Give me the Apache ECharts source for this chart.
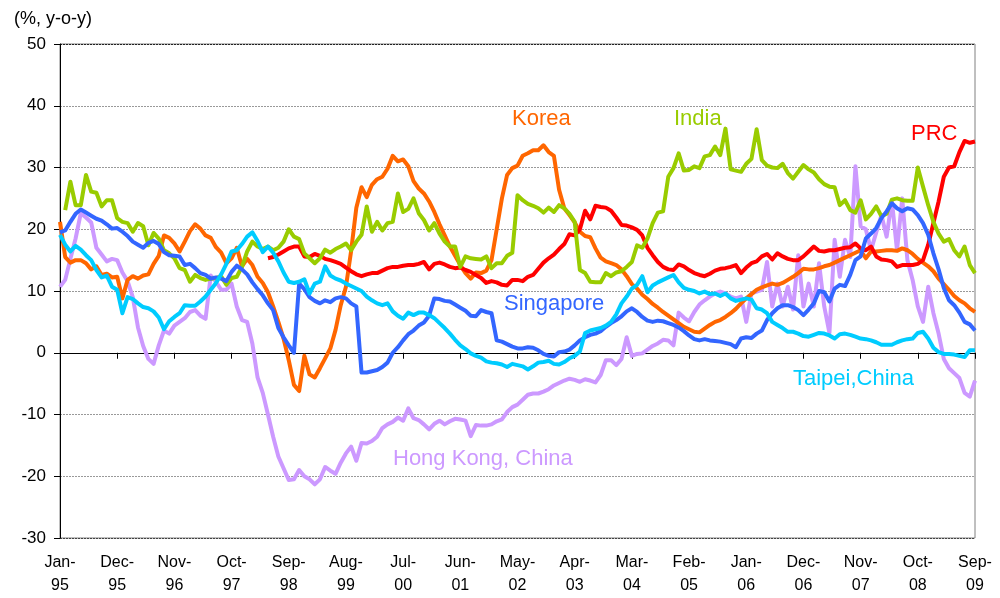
<!DOCTYPE html>
<html>
<head>
<meta charset="utf-8">
<script src="https://cdn.jsdelivr.net/npm/echarts@6/dist/echarts.min.js"></script>
<style>
  html, body { margin: 0; padding: 0; background: #fff; }
  #chart { width: 1000px; height: 598px; }
</style>
</head>
<body>
<div id="chart"></div>
<script>
// monthly, Jan-95 .. Sep-09 (177 points)
const MONTHS = ['Jan', 'Feb', 'Mar', 'Apr', 'May', 'Jun', 'Jul', 'Aug', 'Sep', 'Oct', 'Nov', 'Dec']
const FIRST_YEAR = 1995
const N_MONTHS = 177
const TICK_EVERY = 11
const TICK_LABELS = ['Jan-95', 'Dec-95', 'Nov-96', 'Oct-97', 'Sep-98', 'Aug-99', 'Jul-00', 'Jun-01',
  'May-02', 'Apr-03', 'Mar-04', 'Feb-05', 'Jan-06', 'Dec-06', 'Nov-07', 'Oct-08', 'Sep-09']

const categories = []
for (let i = 0; i < N_MONTHS; i++) {
  const yy = String(FIRST_YEAR + Math.floor(i / 12)).slice(2)
  categories.push(MONTHS[i % 12] + '-' + yy)
}

const korea = [
  21.2, 15.5, 14.6, 15.0, 15.0, 14.5, 13.5, 14.0, 12.6, 12.8, 12.2, 12.3,
  8.8, 11.8, 12.4, 12.0, 12.5, 12.7, 14.4, 15.7, 19.0, 18.6, 17.7, 16.4,
  18.0, 19.7, 20.8, 20.1, 19.0, 18.6, 17.1, 16.2, 14.5, 15.3, 17.0, 14.0,
  15.2, 14.2, 12.3, 11.3, 9.8, 7.5, 5.0, 2.3, -1.2, -5.2, -6.2, -0.5,
  -3.5, -4.0, -2.5, -0.9, 0.7, 3.7, 7.7, 10.7, 16.5, 23.5, 26.8, 25.2,
  27.2, 28.1, 28.5, 29.8, 31.9, 31.0, 31.3, 30.2, 27.8, 26.6, 25.8, 24.5,
  22.8, 20.8, 19.0, 17.2, 15.7, 14.2, 12.9, 12.0, 13.0, 12.9, 13.3, 15.0,
  20.0, 25.0, 28.8, 29.9, 30.3, 31.9, 32.3, 32.8, 32.8, 33.6, 32.5, 31.9,
  26.4, 23.4, 22.3, 21.1, 19.6, 18.9, 18.7, 16.9, 15.4, 14.8, 14.5, 14.2,
  13.5, 12.4, 11.1, 10.4, 9.4, 8.7, 7.9, 7.3, 6.6, 6.0, 5.4, 4.8,
  4.2, 3.8, 3.4, 3.3, 3.9, 4.5, 5.0, 5.3, 5.8, 6.4, 7.1, 8.0,
  8.8, 9.5, 10.2, 10.6, 10.9, 11.2, 11.0, 11.3, 11.8, 12.3, 12.9, 13.6,
  13.5, 13.5, 13.7, 14.0, 14.2, 14.6, 15.0, 15.4, 15.8, 16.2, 16.6, 15.3,
  16.4, 16.4, 16.5, 16.6, 16.6, 16.5, 16.9, 16.6, 16.0, 15.2, 14.6, 14.0,
  13.2, 12.0, 11.1, 10.2, 9.2, 8.5, 8.0, 7.2, 6.6
]

const india = [
  null, 23.1, 27.7, 23.9, 23.9, 28.8, 26.1, 25.9, 23.7, 24.7, 24.7, 21.8,
  21.2, 21.0, 19.6, 21.0, 20.5, 17.4, 19.4, 18.5, 16.6, 16.1, 15.3, 13.7,
  13.4, 11.5, 12.6, 12.1, 11.8, 12.0, 12.1, 12.4, 11.0, 12.1, 12.3, 13.9,
  16.4, 18.0, 17.2, 16.8, 17.2, 16.6, 17.0, 18.0, 20.0, 18.8, 18.4, 16.1,
  15.3, 14.5, 15.3, 16.7, 16.2, 16.8, 17.2, 17.7, 16.6, 18.0, 19.1, 23.7,
  19.6, 21.2, 19.8, 21.0, 21.2, 25.8, 22.8, 23.3, 25.0, 22.6, 21.5, 19.8,
  21.0, 19.3, 18.0, 17.2, 17.2, 13.9, 15.6, 15.3, 15.2, 15.1, 15.6, 13.7,
  14.5, 14.5, 15.7, 16.2, 25.5, 24.7, 24.1, 23.8, 23.4, 22.7, 23.5, 22.8,
  23.9, 23.4, 22.5, 21.2, 13.4, 12.9, 11.5, 11.4, 11.4, 12.9, 12.4, 13.0,
  13.2, 13.9, 14.7, 17.4, 17.0, 18.5, 21.0, 22.7, 22.9, 28.5, 29.9, 32.3,
  29.5, 29.6, 30.2, 29.9, 31.8, 32.0, 33.4, 32.0, 36.3, 29.7, 29.5, 29.3,
  30.6, 31.4, 36.2, 31.2, 30.3, 30.0, 29.9, 30.6, 29.1, 28.2, 29.3, 30.4,
  29.7, 29.2, 28.1, 27.3, 26.9, 26.8, 23.9, 24.7, 23.1, 22.7, 24.7, 21.6,
  22.5, 23.7, 22.1, 22.5, 24.8, 25.0, 24.7, 24.6, 24.6, 30.0, 26.9, 23.9,
  21.2, 19.3, 18.0, 18.4, 16.6, 15.6, 17.2, 14.2, 12.9
]

const prc = [
  null, null, null, null, null, null, null, null, null, null, null, null,
  null, null, null, null, null, null, null, null, null, null, null, null,
  null, null, null, null, null, null, null, null, null, null, null, null,
  null, null, null, null, 15.3, 15.5, 15.9, 16.4, 16.9, 17.2, 17.2, 15.6,
  15.5, 16.0, 15.7, 15.2, 15.0, 14.7, 14.4, 13.8, 13.2, 12.7, 12.4, 12.7,
  12.9, 12.9, 13.3, 13.7, 13.9, 13.9, 14.1, 14.2, 14.2, 14.4, 14.7, 13.5,
  14.4, 14.6, 14.3, 13.9, 13.7, 13.8, 13.4, 13.1, 12.6, 12.1, 11.3, 11.6,
  11.4, 11.0, 10.9, 11.8, 11.8, 11.6, 12.3, 12.6, 13.6, 14.6, 15.3, 15.9,
  16.8, 17.6, 19.2, 19.0, 20.0, 23.0, 21.6, 23.8, 23.6, 23.5, 23.0, 21.9,
  20.7, 20.6, 20.3, 19.9, 19.0, 17.0, 15.8, 14.7, 13.9, 13.5, 13.4, 14.3,
  14.0, 13.4, 12.9, 12.6, 12.4, 12.8, 13.3, 13.6, 13.7, 13.9, 14.2, 12.9,
  13.8, 14.5, 14.8, 15.6, 16.0, 15.1, 16.1, 15.6, 15.2, 15.0, 15.0, 15.6,
  16.4, 17.2, 16.5, 16.4, 16.6, 16.6, 16.8, 17.0, 17.1, 17.7, 16.9, 16.6,
  17.2, 15.6, 15.1, 15.0, 14.8, 13.9, 14.2, 14.2, 14.2, 14.4, 15.0, 17.5,
  21.0, 24.5, 28.5, 30.0, 30.2, 32.5, 34.3, 34.0, 34.2
]

const singapore = [
  19.5, 19.8, 21.2, 22.5, 23.2, 22.7, 22.2, 21.7, 21.4, 20.8, 20.1, 20.2,
  19.6, 18.9, 18.0, 17.5, 17.0, 17.8, 18.1, 17.6, 16.3, 15.8, 15.7, 15.6,
  14.2, 14.4, 13.7, 12.9, 12.6, 12.0, 12.2, 12.0, 11.6, 13.1, 14.1, 13.5,
  12.7, 11.4, 10.3, 9.3, 8.0, 6.9, 4.0, 2.5, 1.2, 0.0, 11.2, 10.3,
  9.0, 8.4, 8.0, 8.5, 8.2, 8.8, 9.0, 8.8, 8.0, 7.5, -3.2, -3.2,
  -3.0, -2.8, -2.3, -1.6, 0.0, 0.9, 2.0, 3.0, 3.6, 4.4, 4.9, 6.0,
  8.8, 8.7, 8.4, 8.3, 7.8, 7.3, 6.8, 6.0, 5.9, 6.9, 6.6, 6.4,
  2.0, 1.8, 1.4, 1.0, 0.7, 0.7, 0.9, 0.8, 0.4, -0.2, -0.5, -0.6,
  0.1, 0.2, 0.5, 1.2, 2.0, 2.5, 2.9, 3.1, 3.5, 4.2, 4.8, 5.3,
  5.9, 6.7, 7.2, 6.6, 5.8, 5.2, 5.0, 5.2, 5.1, 4.8, 4.5, 4.1,
  3.5, 2.8, 2.2, 2.0, 2.2, 2.0, 1.9, 1.8, 1.6, 1.4, 0.9, 2.3,
  2.5, 2.4, 3.1, 3.6, 5.3, 6.4, 7.2, 7.7, 7.7, 7.4, 6.9, 6.1,
  7.0, 8.0, 10.0, 9.8, 8.3, 10.4, 11.0, 10.8, 12.6, 15.0, 15.6, 18.5,
  19.3, 20.2, 21.8, 22.9, 24.2, 23.4, 22.9, 23.4, 23.2, 22.3, 21.0, 19.1,
  16.1, 13.5, 10.5, 8.5, 7.7, 6.5, 5.0, 4.6, 3.6
]

const taipei = [
  19.1, 17.5, 16.4, 17.3, 16.7, 15.8, 15.0, 13.4, 12.2, 12.5, 10.7, 10.2,
  6.4, 9.0, 8.7, 8.0, 7.4, 7.2, 6.7, 5.7, 3.8, 5.1, 5.8, 6.4,
  7.7, 7.6, 7.6, 8.3, 9.1, 10.2, 11.3, 12.7, 14.4, 16.4, 16.6, 17.6,
  18.8, 19.5, 18.1, 16.3, 17.2, 16.2, 14.8, 13.0, 11.5, 11.3, 11.5, 11.9,
  9.6, 11.2, 11.5, 14.0, 12.5, 12.0, 11.7, 11.2, 10.8, 10.4, 10.0, 9.1,
  8.5, 8.0, 7.7, 8.0, 6.7, 6.0, 5.5, 6.5, 6.1, 6.5, 6.5, 6.1,
  5.6, 4.8, 4.0, 3.1, 2.1, 1.2, 0.6, -0.1, -0.5, -0.8, -1.4, -1.6,
  -1.7, -1.9, -2.3, -1.8, -2.0, -2.2, -2.7, -2.2, -1.6, -1.5, -1.3, -1.8,
  -1.9, -1.5, -0.9, -0.5, 0.2, 3.2, 3.6, 3.8, 4.0, 4.4, 5.0, 6.2,
  8.0, 9.1, 10.4, 11.0, 12.4, 9.8, 10.9, 11.4, 11.8, 12.2, 12.6, 11.4,
  10.5, 10.2, 10.0, 9.6, 9.9, 9.5, 9.6, 9.2, 9.6, 8.8, 8.4, 8.6,
  8.8, 8.6, 7.2, 7.0, 6.4, 5.0, 4.5, 4.0, 3.4, 3.4, 3.1, 2.7,
  2.6, 2.9, 3.2, 3.1, 2.8, 2.3, 3.0, 3.1, 2.9, 2.6, 2.3, 2.2,
  2.0, 1.7, 1.3, 1.3, 1.3, 1.7, 2.0, 2.2, 2.3, 3.2, 3.4, 2.3,
  0.8, 0.1, -0.2, -0.2, -0.3, -0.5, -0.7, 0.4, 0.4
]

const hongKong = [
  10.7, 11.8, 15.2, 18.5, 22.6, 21.9, 21.1, 17.0, 15.9, 14.8, 15.2, 15.0,
  13.0, 11.6, 9.0, 4.1, 1.1, -1.0, -1.8, 1.2, 3.6, 3.1, 4.4, 5.0,
  5.6, 6.6, 6.9, 6.0, 5.5, 12.5, 11.5, 10.2, 10.2, 11.2, 7.5, 5.3,
  5.0, 1.5, -4.0, -6.5, -10.0, -13.6, -16.8, -18.7, -20.6, -20.5, -19.0, -20.0,
  -20.5, -21.3, -20.5, -18.5, -19.1, -19.6, -17.8, -16.3, -15.2, -17.5, -14.6, -14.7,
  -14.3, -13.6, -12.2, -11.6, -11.2, -10.5, -11.0, -9.0, -10.6, -10.9, -11.6, -12.4,
  -11.5, -11.0, -11.6, -11.1, -10.7, -10.8, -11.0, -13.5, -11.7, -11.8, -11.8, -11.6,
  -11.1, -10.8, -9.6, -8.8, -8.4, -7.6, -6.8, -6.6, -6.6, -6.3, -5.9, -5.3,
  -4.9, -4.5, -4.2, -4.4, -4.7, -4.3, -4.5, -4.8, -3.6, -1.2, -1.2, -2.0,
  -1.0, 2.5, -0.5, -0.2, -0.1, 0.5, 1.1, 1.5, 2.1, 2.0, 1.2, 6.5,
  5.7, 5.1, 6.6, 7.8, 8.5, 9.1, 9.6, 9.9, 9.6, 9.1, 8.8, 9.1,
  5.0, 9.6, 9.9, 10.2, 14.7, 7.5, 11.2, 7.5, 10.7, 7.0, 15.8, 7.5,
  11.2, 7.5, 14.5, 7.5, 3.2, 18.3, 12.3, 18.3, 15.5, 30.2, 20.5, 20.0,
  16.6, 19.5, 22.3, 18.8, 24.7, 16.6, 25.0, 15.0, 11.8, 7.5, 5.0, 10.7,
  6.4, 3.1, -1.0, -2.5, -3.3, -4.1, -6.5, -7.1, -4.5
]

const FONT = "'Liberation Sans', Arial, sans-serif"

// drawing order: first is at the back
const SERIES = [
  { name: 'Hong Kong, China', data: hongKong, color: '#CC99FF' },
  { name: 'Korea', data: korea, color: '#FF6600' },
  { name: 'PRC', data: prc, color: '#FF0000' },
  { name: 'India', data: india, color: '#99CC00' },
  { name: 'Singapore', data: singapore, color: '#3366FF' },
  { name: 'Taipei,China', data: taipei, color: '#00CCFF' },
]

// in-plot series names
const NOTES = [
  { text: 'Korea', x: 512, y: 108, color: '#FF6600' },
  { text: 'India', x: 674, y: 108, color: '#99CC00' },
  { text: 'PRC', x: 911, y: 123, color: '#FF0000' },
  { text: 'Singapore', x: 504, y: 293, color: '#3366FF' },
  { text: 'Taipei,China', x: 793, y: 368, color: '#00CCFF' },
  { text: 'Hong Kong, China', x: 393, y: 448, color: '#CC99FF' },
]

const showTick = (i) => i % TICK_EVERY === 0

const chart = echarts.init(document.getElementById('chart'), null, { renderer: 'canvas' })

chart.setOption({
  animation: false,
  backgroundColor: '#fff',
  textStyle: { fontFamily: FONT },
  title: {
    text: '(%, y-o-y)',
    left: 9,
    top: 5,
    textStyle: { fontSize: 18, fontWeight: 'normal', color: '#000', fontFamily: FONT },
  },
  grid: {
    left: 60, right: 25, top: 44, bottom: 60,
    show: true, borderColor: '#808080', borderWidth: 1,
  },
  xAxis: [
    {
      type: 'category',
      data: categories,
      boundaryGap: false,
      axisLine: { onZero: true, lineStyle: { color: '#000', width: 1 } },
      axisTick: { interval: showTick, length: 6, lineStyle: { color: '#000' } },
      axisLabel: { show: false },
      splitLine: { show: false },
    },
    {
      type: 'category',
      data: categories,
      boundaryGap: false,
      position: 'bottom',
      axisLine: { show: false, onZero: false },
      axisTick: { show: false },
      splitLine: { show: false },
      axisLabel: {
        interval: showTick,
        formatter: (v) => TICK_LABELS.includes(v) ? v.replace('-', '-\n') : '',
        margin: 13,
        fontSize: 16,
        lineHeight: 23,
        color: '#000',
        fontFamily: FONT,
      },
    },
  ],
  yAxis: {
    type: 'value',
    min: -30,
    max: 50,
    interval: 10,
    axisLine: { show: true, lineStyle: { color: '#000', width: 1 } },
    axisTick: { show: true, length: 6, lineStyle: { color: '#000' } },
    axisLabel: { margin: 14, fontSize: 17, color: '#000', fontFamily: FONT },
    splitLine: {
      lineStyle: {
        color: ['#444', '#999', '#999', '#999', '#999', '#999', '#999', '#999', '#222'],
        width: 1,
        type: [2, 1],
      },
    },
  },
  series: SERIES.map((s) => ({
    type: 'line',
    name: s.name,
    xAxisIndex: 0,
    data: s.data,
    showSymbol: false,
    symbol: 'none',
    connectNulls: false,
    lineStyle: { color: s.color, width: 4, join: 'round', cap: 'butt' },
    itemStyle: { color: s.color },
    emphasis: { disabled: true },
  })),
  graphic: NOTES.map((n) => ({
    type: 'text',
    left: n.x,
    top: n.y,
    z: 100,
    style: { text: n.text, fill: n.color, font: '22px ' + FONT },
  })),
})
</script>
</body>
</html>
